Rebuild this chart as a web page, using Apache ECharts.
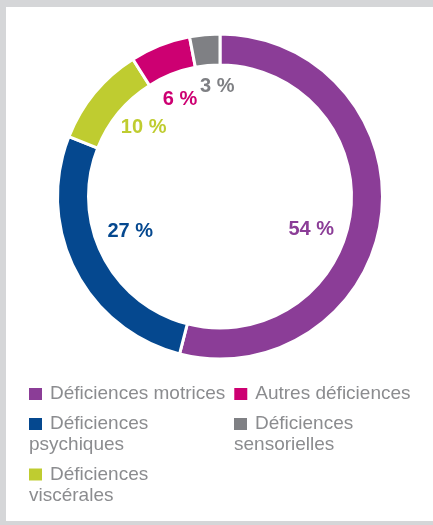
<!DOCTYPE html>
<html>
<head>
<meta charset="utf-8">
<script src="https://cdn.jsdelivr.net/npm/echarts@6/dist/echarts.min.js"></script>
<style>
  html, body { margin: 0; padding: 0; background: #d5d6d8; width: 433px; height: 525px; overflow: hidden; }
  #chart { position: absolute; left: 6px; top: 7px; width: 427px; height: 514px; background: #ffffff; }
</style>
</head>
<body>
<div id="chart"></div>
<script>
// Data (clockwise from 12 o'clock)
const categories = ['Déficiences motrices', 'Déficiences psychiques', 'Déficiences viscérales', 'Autres déficiences', 'Déficiences sensorielles'];
const values = [54, 27, 10, 6, 3];
const colors = ['#8b3d97', '#05488f', '#bfcc30', '#cd0072', '#7f8084'];
// legend rows as laid out in the reference
const legendRows = [
  ['Déficiences motrices', 'Autres déficiences'],
  ['Déficiences psychiques', 'Déficiences sensorielles'],
  ['Déficiences viscérales']
];
const legendText = {
  'Déficiences motrices': 'Déficiences motrices',
  'Autres déficiences': 'Autres déficiences',
  'Déficiences psychiques': 'Déficiences\npsychiques',
  'Déficiences sensorielles': 'Déficiences\nsensorielles',
  'Déficiences viscérales': 'Déficiences\nviscérales'
};

// style-only settings
const labelNudge = [[-11, 20], [2, -12], [3, -3], [-2, -1], [7, -7]];
const legendTops = [376.5, 406.5, 457];

const FONT = '"Liberation Sans", Arial, Helvetica, sans-serif';
const center = [214, 189.5];

const rich = { g: { width: 8, lineHeight: 21 } };
colors.forEach((c, i) => {
  rich['s' + i] = { width: 13, height: 12, lineHeight: 21, backgroundColor: c };
});

const legends = legendRows.map((row, r) => ({
  data: row,
  left: 17,
  top: legendTops[r],
  width: 412,
  padding: 0,
  itemWidth: 0,
  itemHeight: 0,
  itemGap: 3,
  selectedMode: false,
  textStyle: {
    fontFamily: FONT,
    fontSize: 19,
    lineHeight: 21,
    color: '#8b8c8f',
    width: 196,
    rich: rich
  },
  formatter: function (name) {
    const i = categories.indexOf(name);
    return '{s' + i + '|}{g|}' + legendText[name];
  }
}));

const chart = echarts.init(document.getElementById('chart'), null, { renderer: 'canvas' });
chart.setOption({
  animation: false,
  color: colors,
  legend: legends,
  series: [
    {
      type: 'pie',
      center: center,
      radius: [131.5, 162.5],
      startAngle: 90,
      clockwise: true,
      silent: true,
      label: { show: false },
      labelLine: { show: false },
      itemStyle: { borderColor: '#ffffff', borderWidth: 3 },
      data: categories.map((n, i) => ({ name: n, value: values[i] }))
    },
    {
      type: 'pie',
      center: center,
      radius: [60, 140],
      startAngle: 90,
      clockwise: true,
      silent: true,
      labelLine: { show: false },
      label: {
        show: true,
        position: 'inside',
        fontFamily: FONT,
        fontWeight: 'bold',
        fontSize: 20,
        formatter: '{c} %'
      },
      data: categories.map((n, i) => ({
        name: n,
        value: values[i],
        itemStyle: { color: 'rgba(0,0,0,0)' },
        label: { color: colors[i], offset: labelNudge[i] }
      }))
    }
  ]
});
</script>
</body>
</html>
